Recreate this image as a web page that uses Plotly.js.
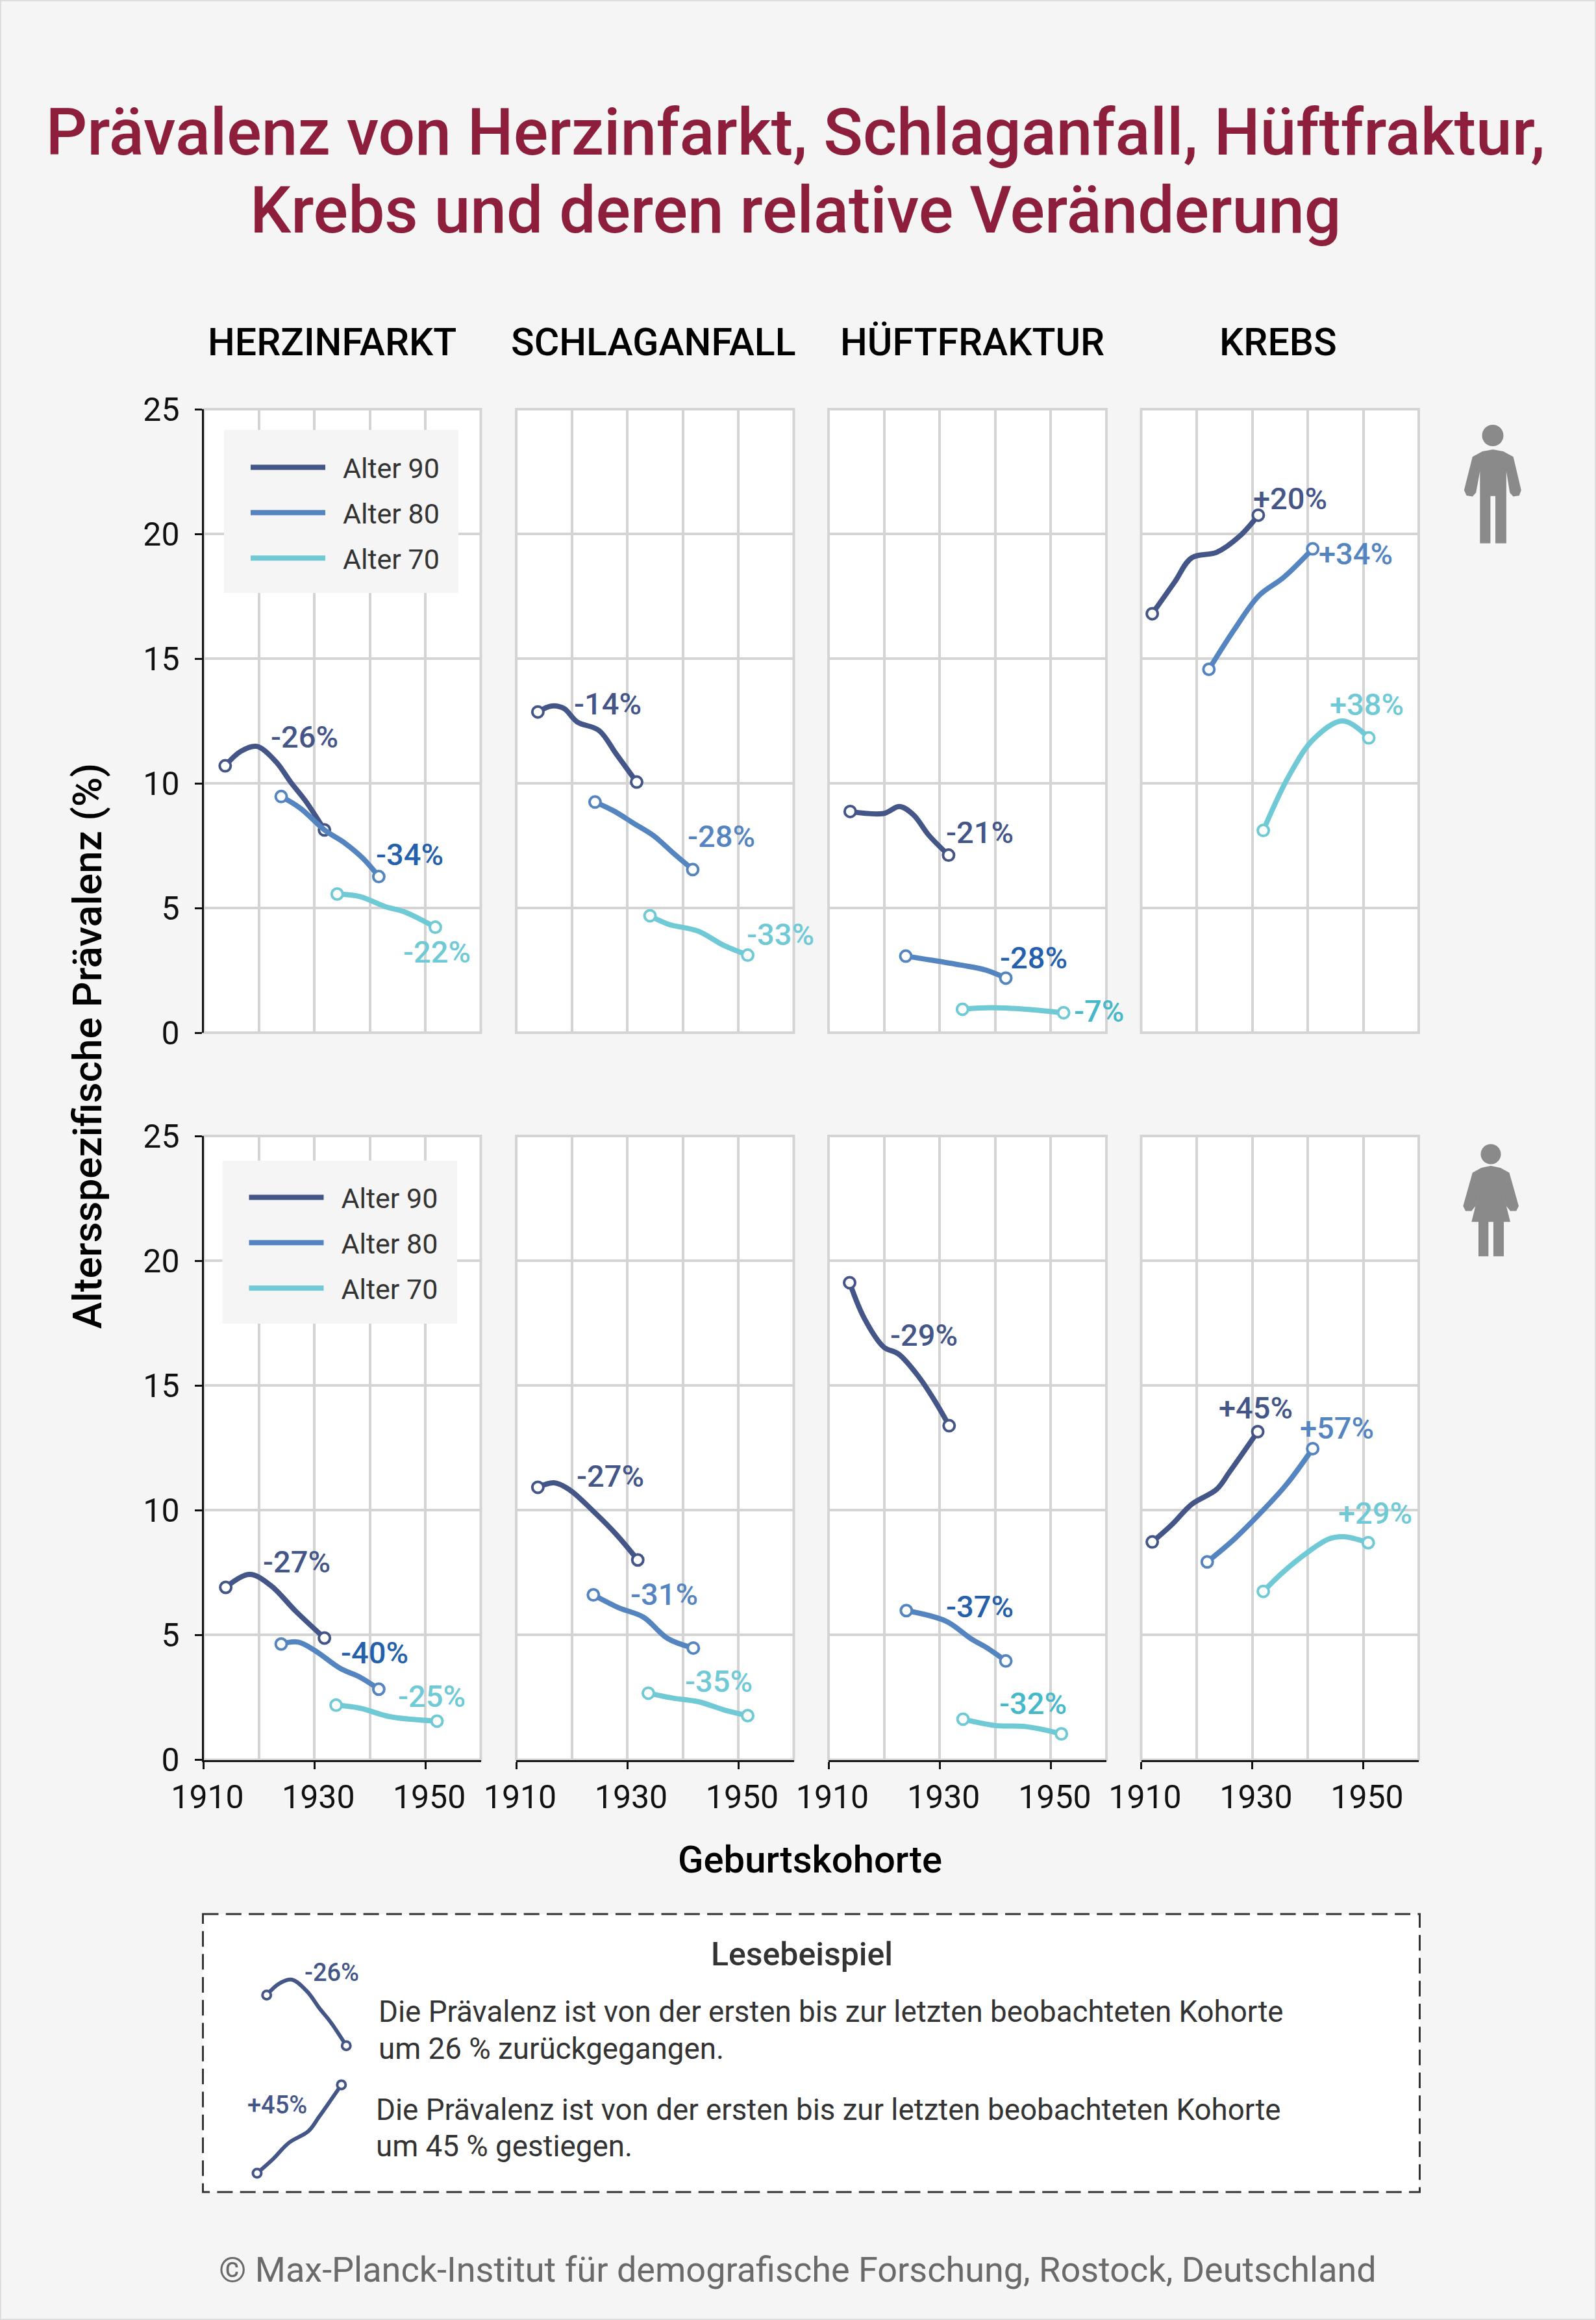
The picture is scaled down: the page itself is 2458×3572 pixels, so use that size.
<!DOCTYPE html>
<html><head><meta charset="utf-8">
<script src="https://cdn.plot.ly/plotly-3.0.1.min.js"></script>
<style>html,body{margin:0;padding:0;background:#f5f5f5}</style></head>
<body><div id="chart" style="width:2458px;height:3572px"></div>
<script>
// ---------- DATA (cohort year, prevalence %) ----------
const diseases=['HERZINFARKT','SCHLAGANFALL','HÜFTFRAKTUR','KREBS'];
const ageNames=['Alter 90','Alter 80','Alter 70'];
const xTickYears=[1910,1930,1950];

// Men
const mHerz90x=[1913.9,1916.7,1919.6,1923,1925.7,1928.4,1931.8];
const mHerz90y=[10.7,11.28,11.48,10.88,10.05,9.29,8.13];
const mHerz80x=[1924,1927.5,1931.8,1935.5,1938.7,1941.6];
const mHerz80y=[9.47,8.99,8.13,7.6,7.0,6.26];
const mHerz70x=[1934.1,1938.2,1942.7,1946.3,1951.8];
const mHerz70y=[5.56,5.46,5.06,4.84,4.23];
const mSchl90x=[1913.9,1916.4,1918.6,1921,1924.9,1928,1931.7];
const mSchl90y=[12.86,13.1,13.0,12.46,12.12,11.18,10.05];
const mSchl80x=[1924.2,1927.6,1931.2,1934.8,1938.3,1941.8];
const mSchl80y=[9.25,8.89,8.39,7.89,7.2,6.54];
const mSchl70x=[1934.1,1937.4,1942.8,1947.3,1951.7];
const mSchl70y=[4.69,4.35,4.07,3.51,3.11];
const mHuef90x=[1913.9,1919.9,1922.8,1925.3,1928,1931.6];
const mHuef90y=[8.87,8.79,9.07,8.73,7.93,7.12];
const mHuef80x=[1923.9,1928.5,1933.8,1938.3,1941.9];
const mHuef80y=[3.07,2.91,2.71,2.51,2.19];
const mHuef70x=[1934.1,1939.2,1945.5,1952.3];
const mHuef70y=[0.94,1.0,0.94,0.8];
const mKreb90x=[1912,1916,1919.1,1923.6,1927.7,1931.1];
const mKreb90y=[16.8,18.06,19.04,19.26,19.9,20.75];
const mKreb80x=[1922.2,1926.8,1931.2,1935.7,1940.9];
const mKreb80y=[14.57,16.17,17.52,18.26,19.4];
const mKreb70x=[1932,1936.6,1941.1,1946.3,1951];
const mKreb70y=[8.11,10.29,11.78,12.5,11.82];
// Women
const wHerz90x=[1914,1918.3,1922.1,1926.6,1931.8];
const wHerz90y=[6.91,7.43,6.99,5.96,4.88];
const wHerz80x=[1924,1927,1930.2,1934.6,1938.2,1941.6];
const wHerz80y=[4.64,4.72,4.36,3.67,3.31,2.83];
const wHerz70x=[1933.9,1938.2,1943.6,1952.1];
const wHerz70y=[2.19,2.07,1.73,1.55];
const wSchl90x=[1913.9,1916.8,1919.5,1924,1928,1931.9];
const wSchl90y=[10.92,11.1,10.84,9.94,9.04,8.01];
const wSchl80x=[1923.9,1928.4,1932.9,1937.3,1941.9];
const wSchl80y=[6.61,6.1,5.72,4.86,4.48];
const wSchl70x=[1933.8,1938.3,1942.8,1947.3,1951.7];
const wSchl70y=[2.67,2.47,2.33,2.01,1.77];
const wHuef90x=[1913.8,1916.4,1919.9,1922.6,1926.2,1929.3,1931.7];
const wHuef90y=[19.12,17.71,16.55,16.26,15.36,14.32,13.39];
const wHuef80x=[1924,1931.1,1935.6,1938.7,1941.9];
const wHuef80y=[5.98,5.56,4.86,4.46,3.96];
const wHuef70x=[1934.2,1940.1,1945.5,1951.9];
const wHuef70y=[1.63,1.37,1.33,1.04];
const wKreb90x=[1912,1915.6,1919.1,1923.6,1925.9,1931];
const wKreb90y=[8.73,9.44,10.24,10.84,11.53,13.15];
const wKreb80x=[1921.9,1926.8,1931.7,1936.2,1940.9];
const wKreb80y=[7.93,8.85,9.94,11.04,12.47];
const wKreb70x=[1932,1935.7,1940.2,1943.8,1946.5,1950.9];
const wKreb70y=[6.75,7.55,8.35,8.85,8.94,8.7];

// Percent-change labels: text, anchor x, anchor y, one entry per panel, ordered 90/80/70
const mHerzLabels=['-26%','-34%','-22%'];const mHerzLabX=[1928.2,1947.2,1952.1];const mHerzLabY=[11.86,7.16,3.25];
const mSchlLabels=['-14%','-28%','-33%'];const mSchlLabX=[1926.5,1947,1957.6];const mSchlLabY=[13.18,7.87,3.95];
const mHuefLabels=['-21%','-28%','-7%'];const mHuefLabX=[1937.2,1946.9,1958.7];const mHuefLabY=[8.03,3.01,0.88];
const mKrebLabels=['+20%','+34%','+38%'];const mKrebLabX=[1936.8,1948.7,1950.6];const mKrebLabY=[21.41,19.2,13.16];
const wHerzLabels=['-27%','-40%','-25%'];const wHerzLabX=[1926.8,1940.9,1951.2];const wHerzLabY=[7.95,4.3,2.55];
const wSchlLabels=['-27%','-31%','-35%'];const wSchlLabX=[1926.9,1936.7,1946.5];const wSchlLabY=[11.37,6.65,3.15];
const wHuefLabels=['-29%','-37%','-32%'];const wHuefLabX=[1927.2,1937.2,1946.8];const wHuefLabY=[17.03,6.14,2.27];
const wKrebLabels=['+45%','+57%','+29%'];const wKrebLabX=[1930.6,1945.3,1952.2];const wKrebLabY=[14.12,13.31,9.88];

// ---------- STYLE / LAYOUT ----------
const W=2458,H=3572;
const FONT='Roboto';
const TITLE_RED='#8d1f3c';
const ageColors=['#445688','#5585c1','#70cad6'];
const labelColors=[
 ['#445688','#2460ab','#70cad6'],['#445688','#5585c1','#70cad6'],
 ['#445688','#2460ab','#45b9c9'],['#445688','#5585c1','#70cad6'],
 ['#445688','#2460ab','#70cad6'],['#445688','#5585c1','#70cad6'],
 ['#445688','#2460ab','#45b9c9'],['#445688','#5585c1','#70cad6']];
const GRID='#d4d4d4';
const colL=[313.5,795,1276,1757.5], colR=[740.5,1222.5,1704,2185];
const rowT=[630,1749], rowB=[1590,2709.5];
const px=x=>x/W, py=y=>1-y/H;
const domX=(a,b)=>[px(a),px(b)], domY=(t,b)=>[py(b),py(t)];

const traces=[], annotations=[], shapes=[];
const layout={
 width:W,height:H,margin:{l:0,r:0,t:0,b:0},
 paper_bgcolor:'#f5f5f5',plot_bgcolor:'#ffffff',
 font:{family:FONT,color:'#111'},showlegend:true,
 title:{text:'Prävalenz von Herzinfarkt, Schlaganfall, Hüftfraktur,',
   x:px(1225),xanchor:'center',y:py(203),yanchor:'middle',
   font:{family:FONT,size:100,weight:500,color:TITLE_RED}},
};
function paperText(x,y,text,font,extra){
 annotations.push(Object.assign({xref:'paper',yref:'paper',x:px(x),y:py(y),xanchor:'center',yanchor:'middle',text:text,showarrow:false,font:Object.assign({family:FONT},font)},extra||{}));
}
paperText(1225,323,'Krebs und deren relative Veränderung',{size:100,weight:500,color:TITLE_RED});

const panelData=[
 [[mHerz90x,mHerz90y],[mHerz80x,mHerz80y],[mHerz70x,mHerz70y],mHerzLabels,mHerzLabX,mHerzLabY],
 [[mSchl90x,mSchl90y],[mSchl80x,mSchl80y],[mSchl70x,mSchl70y],mSchlLabels,mSchlLabX,mSchlLabY],
 [[mHuef90x,mHuef90y],[mHuef80x,mHuef80y],[mHuef70x,mHuef70y],mHuefLabels,mHuefLabX,mHuefLabY],
 [[mKreb90x,mKreb90y],[mKreb80x,mKreb80y],[mKreb70x,mKreb70y],mKrebLabels,mKrebLabX,mKrebLabY],
 [[wHerz90x,wHerz90y],[wHerz80x,wHerz80y],[wHerz70x,wHerz70y],wHerzLabels,wHerzLabX,wHerzLabY],
 [[wSchl90x,wSchl90y],[wSchl80x,wSchl80y],[wSchl70x,wSchl70y],wSchlLabels,wSchlLabX,wSchlLabY],
 [[wHuef90x,wHuef90y],[wHuef80x,wHuef80y],[wHuef70x,wHuef70y],wHuefLabels,wHuefLabX,wHuefLabY],
 [[wKreb90x,wKreb90y],[wKreb80x,wKreb80y],[wKreb70x,wKreb70y],wKrebLabels,wKrebLabX,wKrebLabY],
];

function addLine(xs,ys,color,xa,ya,name,lw,ms,mlw){
 const n=xs.length;
 traces.push({type:'scatter',mode:'lines+markers',x:xs,y:ys,xaxis:xa,yaxis:ya,name:name,showlegend:false,
  cliponaxis:false,hoverinfo:'x+y+name',
  line:{color:color,width:lw,shape:'spline',smoothing:1},
  marker:{symbol:'circle',size:ms,opacity:xs.map((v,i)=>(i===0||i===n-1)?1:0),color:'#ffffff',line:{color:color,width:mlw}}});
}

panelData.forEach((p,idx)=>{
 const c=idx%4,r=Math.floor(idx/4),n=idx+1;
 const xa='x'+(n===1?'':n),ya='y'+(n===1?'':n);
 const bottom=r===1,left=c===0;
 layout['xaxis'+(n===1?'':n)]={
  domain:domX(colL[c],colR[c]),anchor:ya,range:[1910,1960],tickmode:'array',tickvals:bottom?xTickYears:[],
  ticktext:bottom?xTickYears.map(String):[],
  showgrid:false,zeroline:false,
  minor:{tickmode:'array',tickvals:[1920,1930,1940,1950],showgrid:true,gridcolor:GRID,gridwidth:4,ticks:''},
  showline:bottom,linecolor:'#111',linewidth:3,
  ticks:bottom?'outside':'',ticklen:11,tickwidth:3,tickcolor:'#111',
  tickfont:{family:FONT,size:50,color:'#111'},ticklabelshift:6,fixedrange:true};
 layout['yaxis'+(n===1?'':n)]={
  domain:domY(rowT[r],rowB[r]),anchor:xa,range:[0,25],tick0:0,dtick:5,
  showgrid:true,gridcolor:GRID,gridwidth:4,zeroline:false,
  showline:left,linecolor:'#111',linewidth:3,
  ticks:left?'outside':'',ticklen:11,tickwidth:3,tickcolor:'#111',ticklabelstandoff:13,
  showticklabels:left,tickfont:{family:FONT,size:50,color:'#111'},fixedrange:true};
 shapes.push({type:'rect',layer:'below',xref:xa+' domain',yref:ya+' domain',x0:0,x1:1,y0:0,y1:1,
  line:{color:GRID,width:4},fillcolor:'rgba(0,0,0,0)'});
 [0,1,2].forEach(s=>{
  addLine(p[s][0],p[s][1],ageColors[s],xa,ya,ageNames[s],8,17,4);
  annotations.push({xref:xa,yref:ya,x:p[4][s],y:p[5][s],text:p[3][s],showarrow:false,xanchor:'center',yanchor:'middle',
   font:{family:FONT,size:47,weight:500,color:labelColors[idx][s]}});
 });
});

// Column headers
const headerCx=[511,1006,1497,1968];
diseases.forEach((d,i)=>paperText(headerCx[i],527,d,{size:59,weight:500,color:'#000'}));
// Axis titles
paperText(134,1611,'Altersspezifische Prävalenz (%)',{size:62,weight:500,color:'#000'},{textangle:-90});
paperText(1247,2863,'Geburtskohorte',{size:58,weight:500,color:'#000'});
// Footer
paperText(1228,3494,'© Max-Planck-Institut für demografische Forschung, Rostock, Deutschland',{size:54,color:'#6a6a6a'});

// Legend backgrounds and legends (real Plotly legends fed by line-only traces)
shapes.push({type:'rect',xref:'paper',yref:'paper',x0:px(345),x1:px(706),y0:py(662),y1:py(913),fillcolor:'#f5f5f5',line:{width:0}});
shapes.push({type:'rect',xref:'paper',yref:'paper',x0:px(342.5),x1:px(704),y0:py(1787),y1:py(2038),fillcolor:'#f5f5f5',line:{width:0}});
['legend','legend2'].forEach((lg,li)=>{
 [0,1,2].forEach(s=>traces.push({type:'scatter',mode:'lines',x:[null],y:[null],xaxis:li?'x5':'x',yaxis:li?'y5':'y',
  name:'\u2002'+ageNames[s],legend:lg,legendgroup:lg+s,showlegend:true,line:{color:ageColors[s],width:5},hoverinfo:'skip'}));
 layout[lg]={x:px(li?378.5:381),xanchor:'left',y:py(li?1809:685),yanchor:'top',bgcolor:'rgba(0,0,0,0)',borderwidth:0,
  itemwidth:115,tracegroupgap:11,font:{family:FONT,size:43,color:'#333'},itemclick:false,itemdoubleclick:false};
});

// Reading example box
shapes.push({type:'rect',layer:'below',xref:'paper',yref:'paper',x0:px(312.5),x1:px(2186.5),y0:py(2947),y1:py(3375),fillcolor:'#ffffff',
 line:{color:'#333',width:3,dash:'24px,11.3px'}});
// Example curves re-use the real series on small hidden axes
layout.xaxis9={domain:domX(384,562),range:[1910,1936],anchor:'y9',visible:false,fixedrange:true};
layout.yaxis9={domain:domY(3017,3184),range:[7,12.5],anchor:'x9',visible:false,fixedrange:true};
layout.xaxis10={domain:domX(368.6,560),range:[1908,1936],anchor:'y10',visible:false,fixedrange:true};
layout.yaxis10={domain:domY(3183.7,3368.5),range:[8,14],anchor:'x10',visible:false,fixedrange:true};
addLine(mHerz90x,mHerz90y,ageColors[0],'x9','y9','Beispiel -26%',6,13,4);
addLine(wKreb90x,wKreb90y,ageColors[0],'x10','y10','Beispiel +45%',6,13,4);
paperText(510.5,3037,'-26%',{size:38,color:'#445688',weight:500});
paperText(427,3241,'+45%',{size:38,color:'#445688',weight:500});
paperText(1235,3009,'Lesebeispiel',{size:50,weight:500,color:'#333'});
const exampleDown=['Die Prävalenz ist von der ersten bis zur letzten beobachteten Kohorte','um 26 % zurückgegangen.'];
const exampleUp=['Die Prävalenz ist von der ersten bis zur letzten beobachteten Kohorte','um 45 % gestiegen.'];
exampleDown.forEach((t,i)=>paperText(581,3097+i*57,t,{size:45.7,color:'#333'},{xanchor:'left',align:'left'}));
exampleUp.forEach((t,i)=>paperText(576.5,3248+i*56,t,{size:45.7,color:'#333'},{xanchor:'left',align:'left'}));

// Outer border
shapes.push({type:'rect',xref:'paper',yref:'paper',x0:0,x1:1,y0:0,y1:1,line:{color:'#dddddd',width:4},fillcolor:'rgba(0,0,0,0)'});

// Person pictograms (outline in crop pixels -> paper)
function icon(pts,ox,oy){
 const s=1/1.3067;
 return 'M'+pts.map(q=>px(ox+q[0]*s)+','+py(oy+q[1]*s)).join(' L')+' Z';
}
const iconColor='#8a8a8a';
const manOutline=[[1330,318],[1350,307],[1371,303],[1392,307],[1412,318],[1428,385],[1424,396],[1412,398],[1405,390],[1398,347],[1398,492],[1376,492],[1376,397],[1366,397],[1366,492],[1345,492],[1345,347],[1337,390],[1330,398],[1318,396],[1313,385]];
const womanOutline=[[1330,138],[1348,128],[1367,124],[1386,128],[1404,138],[1423,205],[1418,215],[1406,215],[1398,205],[1388,165],[1406,237],[1393,237],[1393,306],[1372,306],[1372,237],[1362,237],[1362,306],[1342,306],[1342,237],[1328,237],[1346,165],[1336,205],[1328,215],[1316,215],[1311,205]];
shapes.push({type:'path',xref:'paper',yref:'paper',path:icon(manOutline,1250,460),fillcolor:iconColor,line:{width:0}});
shapes.push({type:'path',xref:'paper',yref:'paper',path:icon(womanOutline,1250,1700),fillcolor:iconColor,line:{width:0}});
function head(cx,cy,r){return {type:'circle',xref:'paper',yref:'paper',x0:px(cx-r),x1:px(cx+r),y0:py(cy+r),y1:py(cy-r),fillcolor:iconColor,line:{width:0}};}
shapes.push(head(2299,670.5,16.5));
shapes.push(head(2296,1777,15.5));

layout.annotations=annotations;layout.shapes=shapes;
Plotly.newPlot('chart',traces,layout,{displayModeBar:false}).then(gd=>{
 // Plotly caps legend line widths; widen the key lines to match the plotted strokes.
 gd.querySelectorAll('.legendlines path').forEach(el=>{el.style.strokeWidth='8px';});
});
</script></body></html>
